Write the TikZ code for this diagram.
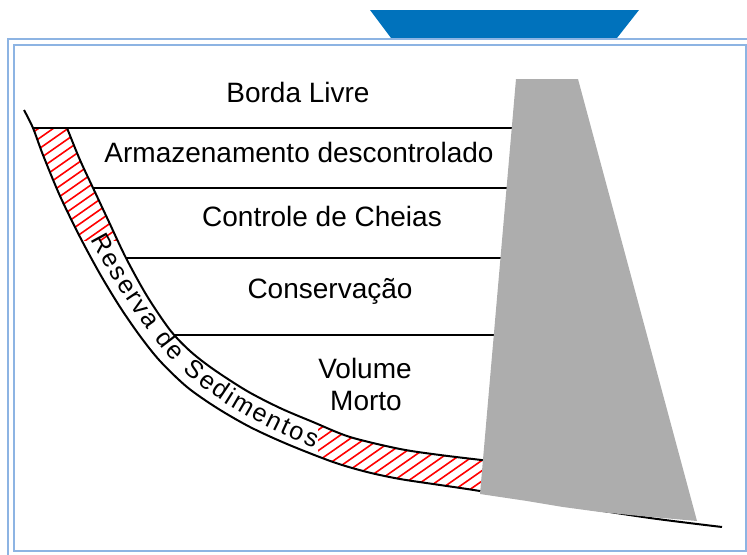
\documentclass[tikz,border=0pt]{standalone}
\usepackage{fontspec}
\setmainfont{Liberation Sans}
\usetikzlibrary{decorations.text}

\definecolor{damgray}{RGB}{173,173,173}
\definecolor{capblue}{RGB}{0,114,188}
\definecolor{rimblue}{RGB}{141,180,227}

\begin{document}
\begin{tikzpicture}[
 x=0.75pt,y=-0.75pt,
 level/.style={line width=2.2pt},
 bank/.style={line width=1.5pt},
 hatch/.style={red,line width=1.2pt},
 rim/.style={rimblue,line width=1.5pt},
 zone/.style={
  anchor=base,
  inner sep=0pt,
  font=\fontsize{21}{24}\selectfont
 }
]
 \useasboundingbox (0,0) rectangle (747,554);

 % red hatching in the sediment band (upper and lower ends)
 \begin{scope}
  \clip plot[smooth] coordinates {(24,110) (33,128) (43,155) (60,196) (80,237)
    (100,274) (120,307) (140,336) (160,361) (187,387) (217,408) (250,427)
    (287,444) (333,462) (367,472) (400,479) (440,485) (480,491)}
   -- plot[smooth] coordinates {(490,461) (440,455) (400,449) (350,437)
    (313,422) (280,408) (247,391) (213,369) (190,351) (170,330) (147,296)
    (126,258) (109,222) (94,190) (80,160) (67,128)} -- cycle;
  \begin{scope}
   \clip (0,128) rectangle (200,240);
   \foreach \k in {0,14.8,...,1300} \draw[hatch] (\k,0) -- ++(-1000,700);
  \end{scope}
  \begin{scope}
   \clip (318,380) rectangle (540,520);
   \foreach \k in {0,14.8,...,1300} \draw[hatch] (\k,0) -- ++(-1000,700);
  \end{scope}
 \end{scope}

 % valley floor and top of the sediment layer
 \draw[bank] plot[smooth] coordinates {(24,110) (33,128) (43,155) (60,196)
   (80,237) (100,274) (120,307) (140,336) (160,361) (187,387) (217,408)
   (250,427) (287,444) (333,462) (367,472) (400,479) (440,485) (480,491)
   (565,505) (650,518) (722,527)};
 \draw[bank] plot[smooth] coordinates {(67,128) (80,160) (94,190) (109,222)
   (126,258) (147,296) (170,330) (190,351) (213,369) (247,391) (280,408)
   (313,422) (350,437) (400,449) (440,455) (490,461)};

 % storage levels
 \draw[level] (33,128) -- (520,128);
 \draw[level] (93,188) -- (515,188);
 \draw[level] (126,258) -- (510,258);
 \draw[level] (175,335) -- (505,335);

 \node[zone] (borda)   at (298,102) {Borda Livre};
 \node[zone] (armaz)   at (299,162) {Armazenamento descontrolado};
 \node[zone] (cheias)  at (322,226) {Controle de Cheias};
 \node[zone] (conserv) at (330,298) {Conservação};
 \node[zone] (volume)  at (365,378) {Volume};
 \node[zone] (morto)   at (366,410) {Morto};

 \path[decorate,decoration={text along path,text align={fit to path},raise=-5.5pt,
   text={|\fontsize{19}{21}\selectfont|Reserva de Sedimentos}}]
   (97,236) .. controls (119,278) and (145,315) .. (170,347)
   .. controls (205,389) and (267,421) .. (317,441);

 % dam body
 \fill[damgray] (516,79) -- (578,79) -- (697,521) -- (640,516) -- (600,512)
   -- (563,507) -- (527,501) -- (480,494) -- cycle;

 % frame and tab
 \fill[capblue] (370,10) -- (639,10) -- (617,38) -- (391,38) -- cycle;
 \draw[rim] (8,39) rectangle (800,600);
 \draw[rim] (14,45) rectangle (745.5,551);
\end{tikzpicture}
\end{document}
